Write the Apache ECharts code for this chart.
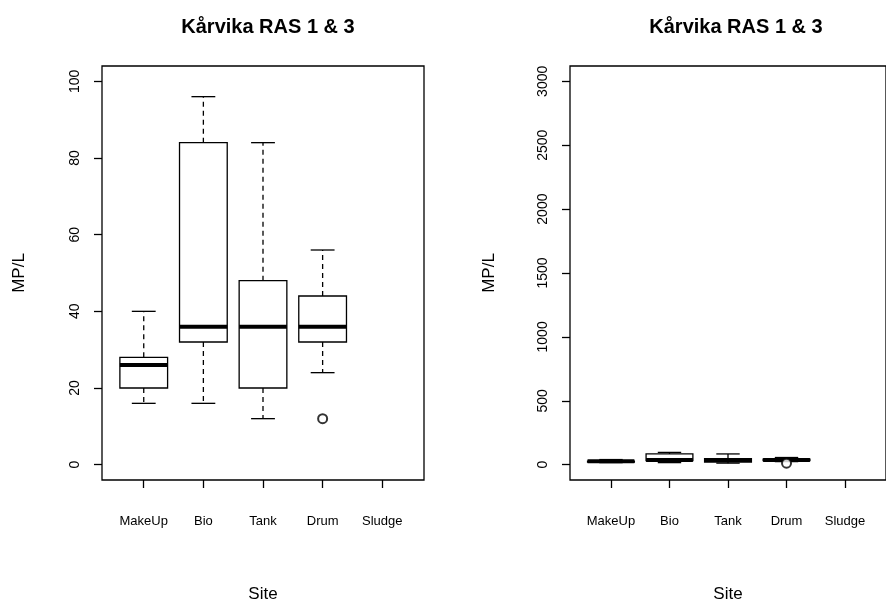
<!DOCTYPE html>
<html>
<head>
<meta charset="utf-8">
<script src="https://cdn.jsdelivr.net/npm/echarts@6/dist/echarts.min.js"></script>
<style>html,body{margin:0;padding:0;background:#fff}#main{width:886px;height:608px}</style>
</head>
<body>
<div id="main"></div>
<script>
    var sites = ['MakeUp', 'Bio', 'Tank', 'Drum', 'Sludge'];
    // [min, q1, median, q3, max] for each site (Sludge empty)
    var minVals = [16, 16, 12, 24];
    var q1Vals = [20, 32, 20, 32];
    var medVals = [26, 36, 36, 36];
    var q3Vals = [28, 84, 48, 44];
    var maxVals = [40, 96, 84, 56];
    var outlierSite = [4];
    var outlierVals = [12];
    var leftTicks = [0, 20, 40, 60, 80, 100];
    var rightTicks = [0, 500, 1000, 1500, 2000, 2500, 3000];

    var font = 'Liberation Sans, Arial, sans-serif';
    var boxData = [];
    for (var i = 0; i < minVals.length; i++) {
        boxData.push([i + 1, minVals[i], q1Vals[i], medVals[i], q3Vals[i], maxVals[i]]);
    }
    var outData = outlierSite.map(function (s, i) { return [s, outlierVals[i]]; });

    function renderBox(params, api) {
        var x = api.value(0);
        var half = api.size([0.4, 0])[0];
        var cap = half / 2;
        var pMin = api.coord([x, api.value(1)]);
        var pQ1 = api.coord([x, api.value(2)]);
        var pMed = api.coord([x, api.value(3)]);
        var pQ3 = api.coord([x, api.value(4)]);
        var pMax = api.coord([x, api.value(5)]);
        var cx = pMed[0];
        var solid = {stroke: '#000', lineWidth: 1.3, fill: null};
        var dash = {stroke: '#000', lineWidth: 1.3, lineDash: [5, 4]};
        return {
            type: 'group',
            children: [
                {type: 'line', shape: {x1: cx, y1: pQ3[1], x2: cx, y2: pMax[1]}, style: dash},
                {type: 'line', shape: {x1: cx, y1: pQ1[1], x2: cx, y2: pMin[1]}, style: dash},
                {type: 'line', shape: {x1: cx - cap, y1: pMax[1], x2: cx + cap, y2: pMax[1]}, style: solid},
                {type: 'line', shape: {x1: cx - cap, y1: pMin[1], x2: cx + cap, y2: pMin[1]}, style: solid},
                {type: 'rect', shape: {x: cx - half, y: pQ3[1], width: half * 2, height: pQ1[1] - pQ3[1]},
                    style: {stroke: '#000', lineWidth: 1.3, fill: '#fff'}},
                {type: 'line', shape: {x1: cx - half, y1: pMed[1], x2: cx + half, y2: pMed[1]},
                    style: {stroke: '#000', lineWidth: 4}}
            ]
        };
    }

    function xAxisFor(idx) {
        return {
            type: 'value', gridIndex: idx, min: 0.3, max: 5.7,
            name: 'Site', nameLocation: 'middle', nameGap: 106,
            nameTextStyle: {fontFamily: font, fontSize: 17, color: '#000'},
            axisLine: {show: false, onZero: false},
            splitLine: {show: false},
            axisTick: {show: true, length: 8, customValues: [1, 2, 3, 4, 5], lineStyle: {color: '#000', width: 1.3}},
            axisLabel: {customValues: [1, 2, 3, 4, 5], margin: 35, fontFamily: font, fontSize: 13, color: '#000',
                formatter: function (v) { return sites[Math.round(v) - 1]; }}
        };
    }
    function yAxisFor(idx, min, max, ticks) {
        return {
            type: 'value', gridIndex: idx, min: min, max: max,
            name: 'MP/L', nameLocation: 'middle', nameGap: idx === 0 ? 74 : 72, nameRotate: 90,
            nameTextStyle: {fontFamily: font, fontSize: 17, color: '#000'},
            axisLine: {show: false, onZero: false},
            splitLine: {show: false},
            axisTick: {show: true, length: 8, customValues: ticks, lineStyle: {color: '#000', width: 1.3}},
            axisLabel: {customValues: ticks, rotate: 90, margin: 20, fontFamily: font, fontSize: 14, color: '#000',
                formatter: function (v) { return String(v); }}
        };
    }

    var chart = echarts.init(document.getElementById('main'));
    chart.setOption({
        animation: false,
        title: [
            {text: 'Kårvika RAS 1 & 3', left: 263, top: 12, textAlign: 'center',
                textStyle: {fontFamily: font, fontSize: 20, fontWeight: 'bold', color: '#000'}},
            {text: 'Kårvika RAS 1 & 3', left: 731, top: 12, textAlign: 'center',
                textStyle: {fontFamily: font, fontSize: 20, fontWeight: 'bold', color: '#000'}}
        ],
        grid: [
            {left: 102, top: 66, width: 322, bottom: 128, show: true, borderColor: '#000', borderWidth: 1.3, backgroundColor: 'transparent'},
            {left: 570, top: 66, width: 322, bottom: 128, show: true, borderColor: '#000', borderWidth: 1.3, backgroundColor: 'transparent'}
        ],
        xAxis: [xAxisFor(0), xAxisFor(1)],
        yAxis: [yAxisFor(0, -4, 104, leftTicks), yAxisFor(1, -120, 3120, rightTicks)],
        series: [
            {type: 'custom', xAxisIndex: 0, yAxisIndex: 0, data: boxData, renderItem: renderBox},
            {type: 'scatter', xAxisIndex: 0, yAxisIndex: 0, data: outData, symbol: 'emptyCircle', symbolSize: 9,
                itemStyle: {color: '#000', borderWidth: 1.2}},
            {type: 'custom', xAxisIndex: 1, yAxisIndex: 1, data: boxData, renderItem: renderBox},
            {type: 'scatter', xAxisIndex: 1, yAxisIndex: 1, data: outData, symbol: 'emptyCircle', symbolSize: 9,
                itemStyle: {color: '#000', borderWidth: 1.2}}
        ]
    });
</script>
</body>
</html>
